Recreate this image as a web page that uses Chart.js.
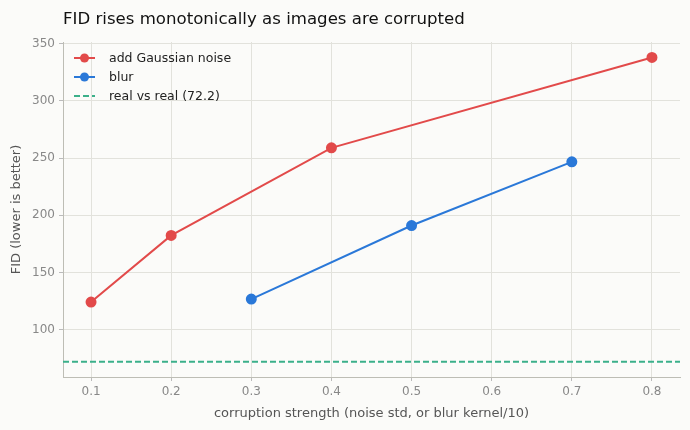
<!DOCTYPE html>
<html>
<head>
<meta charset="utf-8">
<script src="https://cdn.jsdelivr.net/npm/chart.js@4"></script>
<style>
  html, body { margin: 0; padding: 0; background: #fbfbf9; }
  #wrap { position: relative; width: 690px; height: 430px; }
</style>
</head>
<body>
<div id="wrap"><canvas id="fidChart" width="690" height="430"></canvas></div>
<script>
// corruption strengths and FID values
const noiseStrength = [0.1, 0.2, 0.4, 0.8];
const noiseFid = [124.3, 182.5, 258.9, 337.8];
const blurStrength = [0.3, 0.5, 0.7];
const blurFid = [126.9, 191.1, 246.7];
const realVsReal = 72.2;
const xTicks = [0.1, 0.2, 0.3, 0.4, 0.5, 0.6, 0.7, 0.8];
const yTicks = [100, 150, 200, 250, 300, 350];
const xMin = 0.065, xMax = 0.835;
const yMin = 58.9, yMax = 351.3;

const titleText = 'FID rises monotonically as images are corrupted';
const FONT = "'DejaVu Sans', sans-serif";

// title at chart area's left edge, legend drawn inside the plot (top-left)
const decorations = {
    id: 'decorations',
    afterDraw(chart) {
        const ctx = chart.ctx;
        const area = chart.chartArea;
        ctx.save();
        ctx.fillStyle = '#111';
        ctx.font = '16.6px ' + FONT;
        ctx.textBaseline = 'alphabetic';
        ctx.textAlign = 'left';
        ctx.fillText(titleText, area.left, 24);

        ctx.font = '12.5px ' + FONT;
        ctx.textBaseline = 'middle';
        chart.data.datasets.forEach((ds, i) => {
            const y = area.top + 16 + i * 19;
            const x0 = area.left + 11;
            ctx.strokeStyle = ds.borderColor;
            ctx.lineWidth = 2;
            ctx.setLineDash(ds.borderDash || []);
            ctx.beginPath();
            ctx.moveTo(x0, y);
            ctx.lineTo(x0 + 21, y);
            ctx.stroke();
            ctx.setLineDash([]);
            if (ds.pointRadius) {
                ctx.fillStyle = ds.backgroundColor;
                ctx.beginPath();
                ctx.arc(x0 + 10.5, y, 4.5, 0, Math.PI * 2);
                ctx.fill();
            }
            ctx.fillStyle = '#222';
            ctx.fillText(ds.label, x0 + 35, y + 1);
        });
        ctx.restore();
    }
};

const bgPlugin = {
    id: 'bg',
    beforeDraw(chart) {
        const ctx = chart.ctx;
        ctx.save();
        ctx.fillStyle = '#fbfbf9';
        ctx.fillRect(0, 0, chart.width, chart.height);
        ctx.restore();
    }
};

const ctx = document.getElementById('fidChart').getContext('2d');
new Chart(ctx, {
    type: 'scatter',
    data: {
        datasets: [
            {
                label: 'add Gaussian noise',
                data: noiseStrength.map((x, i) => ({ x: x, y: noiseFid[i] })),
                showLine: true,
                borderColor: '#e24a4a',
                backgroundColor: '#e24a4a',
                borderWidth: 2,
                pointRadius: 4.5,
                pointHoverRadius: 4.5
            },
            {
                label: 'blur',
                data: blurStrength.map((x, i) => ({ x: x, y: blurFid[i] })),
                showLine: true,
                borderColor: '#2a78d8',
                backgroundColor: '#2a78d8',
                borderWidth: 2,
                pointRadius: 4.5,
                pointHoverRadius: 4.5
            },
            {
                label: 'real vs real (' + realVsReal + ')',
                data: [{ x: xMin, y: realVsReal }, { x: xMax, y: realVsReal }],
                showLine: true,
                borderColor: '#3bb08a',
                backgroundColor: '#3bb08a',
                borderWidth: 2,
                borderDash: [6, 3],
                pointRadius: 0
            }
        ]
    },
    options: {
        responsive: false,
        animation: false,
        layout: { padding: { top: 42, right: 10, left: 9, bottom: 0 } },
        plugins: {
            legend: { display: false },
            title: { display: false },
            tooltip: { enabled: false }
        },
        scales: {
            x: {
                type: 'linear',
                min: xMin,
                max: xMax,
                afterBuildTicks: axis => { axis.ticks = xTicks.map(v => ({ value: v })); },
                ticks: {
                    color: '#888',
                    font: { family: FONT, size: 12 },
                    padding: 4,
                    callback: v => v.toFixed(1)
                },
                grid: { color: '#e2e2dc', tickLength: 4, tickColor: '#bbb' },
                border: { color: '#bdbdb5', width: 1 },
                title: {
                    display: true,
                    text: 'corruption strength (noise std, or blur kernel/10)',
                    color: '#555',
                    font: { family: FONT, size: 13 },
                    padding: { top: 2, bottom: 9 }
                }
            },
            y: {
                type: 'linear',
                min: yMin,
                max: yMax,
                afterBuildTicks: axis => { axis.ticks = yTicks.map(v => ({ value: v })); },
                afterFit: axis => { axis.width = 54; },
                ticks: {
                    color: '#888',
                    font: { family: FONT, size: 12 },
                    padding: 4
                },
                grid: { color: '#e2e2dc', tickLength: 4, tickColor: '#bbb' },
                border: { color: '#bdbdb5', width: 1 },
                title: {
                    display: true,
                    text: 'FID (lower is better)',
                    color: '#555',
                    font: { family: FONT, size: 13 },
                    padding: { top: 0, bottom: 2 }
                }
            }
        }
    },
    plugins: [bgPlugin, decorations]
});
</script>
</body>
</html>
